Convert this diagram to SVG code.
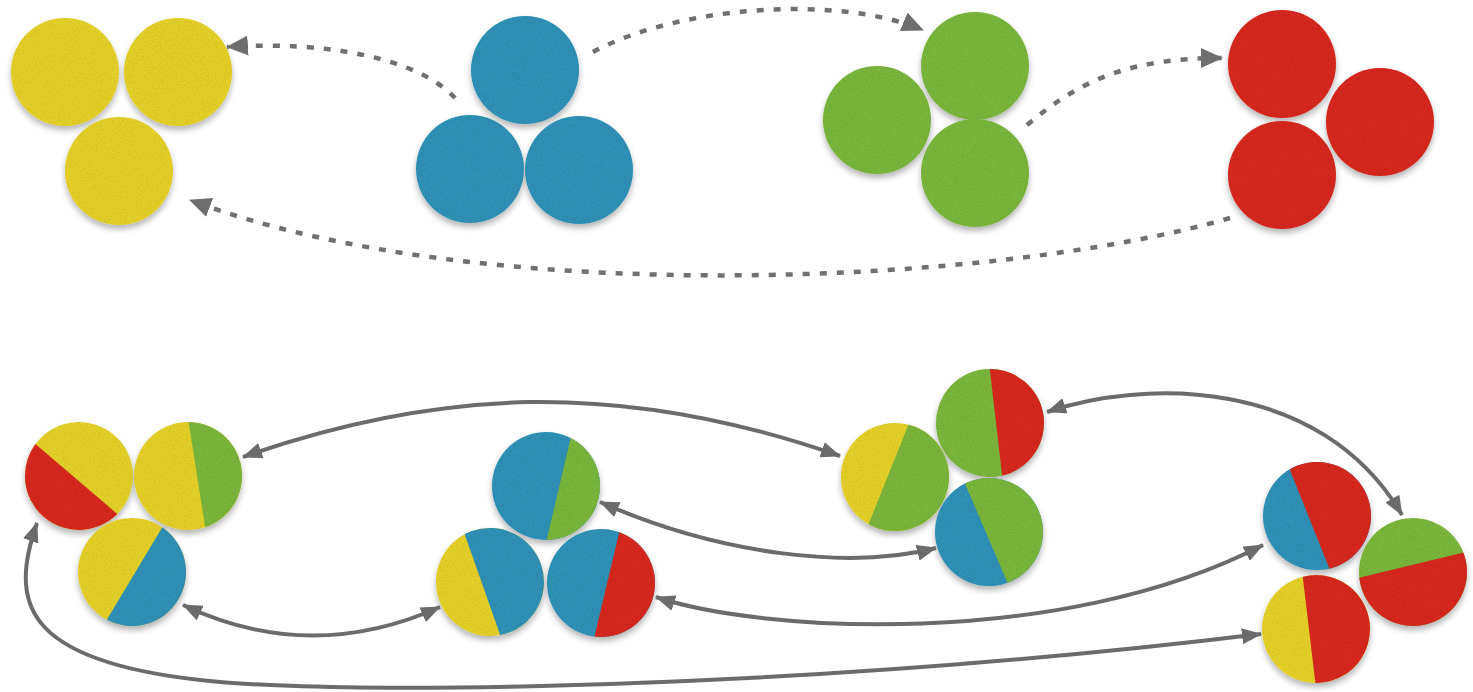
<svg xmlns="http://www.w3.org/2000/svg" width="1473" height="692" viewBox="0 0 1473 692">
<style>
.y{fill:#e6d22c}.b{fill:#3092b8}.g{fill:#7bb73c}.r{fill:#d82b22}
.node{filter:url(#sh)}
.dash{fill:none;stroke:#707070;stroke-width:4.5;stroke-dasharray:7 10;marker-end:url(#ahd)}
.solid{fill:none;stroke:#6b6b6b;stroke-width:4;marker-start:url(#ah);marker-end:url(#ah)}
</style>
<defs>
<filter id="sh" x="-20%" y="-20%" width="140%" height="150%">
<feTurbulence type="fractalNoise" baseFrequency="0.75" numOctaves="2" seed="3" result="noise"/>
<feColorMatrix in="noise" type="matrix" values="0 0 0 0 0  0 0 0 0 0  0 0 0 0 0  0.4 0 0 0 -0.14" result="dark"/>
<feComposite in="dark" in2="SourceGraphic" operator="in" result="tex"/>
<feGaussianBlur in="SourceAlpha" stdDeviation="3"/>
<feOffset dy="4" result="off"/>
<feComponentTransfer in="off" result="shadow"><feFuncA type="linear" slope="0.3"/></feComponentTransfer>
<feMerge><feMergeNode in="shadow"/><feMergeNode in="SourceGraphic"/><feMergeNode in="tex"/></feMerge>
</filter>
<clipPath id="disc"><circle r="54"/></clipPath>
<marker id="ah" viewBox="0 0 20 16" refX="19" refY="8" markerWidth="20" markerHeight="16" markerUnits="userSpaceOnUse" orient="auto-start-reverse"><path d="M0,0 L20,8 L0,16 z" fill="#6b6b6b"/></marker>
<marker id="ahd" viewBox="0 0 22 20" refX="21" refY="10" markerWidth="22" markerHeight="20" markerUnits="userSpaceOnUse" orient="auto"><path d="M0,0 L22,10 L0,20 z" fill="#6e6e6e"/></marker>
</defs>
<rect width="1473" height="692" fill="#ffffff"/>

<g id="top-yellow" class="node">
<circle class="y" cx="65" cy="72" r="54"/>
<circle class="y" cx="178" cy="72" r="54"/>
<circle class="y" cx="119" cy="171" r="54"/>
</g>
<g id="top-blue" class="node">
<circle class="b" cx="525" cy="70" r="54"/>
<circle class="b" cx="470" cy="169" r="54"/>
<circle class="b" cx="579" cy="170" r="54"/>
</g>
<g id="top-green" class="node">
<circle class="g" cx="877" cy="120" r="54"/>
<circle class="g" cx="975" cy="66" r="54"/>
<circle class="g" cx="975" cy="173" r="54"/>
</g>
<g id="top-red" class="node">
<circle class="r" cx="1282" cy="64" r="54"/>
<circle class="r" cx="1380" cy="122" r="54"/>
<circle class="r" cx="1282" cy="175" r="54"/>
</g>

<g id="mix-yellow" class="node">
<g transform="translate(79,476) rotate(130.5)"><circle class="y" r="54"/><rect class="r" x="4" y="-60" width="70" height="120" clip-path="url(#disc)"/></g>
<g transform="translate(188,476) rotate(-9)"><circle class="y" r="54"/><rect class="g" x="9" y="-60" width="70" height="120" clip-path="url(#disc)"/></g>
<g transform="translate(132,572) rotate(31)"><circle class="y" r="54"/><rect class="b" x="3" y="-60" width="70" height="120" clip-path="url(#disc)"/></g>
</g>
<g id="mix-blue" class="node">
<g transform="translate(546,486) rotate(13.3)"><circle class="b" r="54"/><rect class="g" x="13" y="-60" width="70" height="120" clip-path="url(#disc)"/></g>
<g transform="translate(490,582) rotate(-19.4)"><circle class="y" r="54"/><rect class="b" x="-8" y="-60" width="70" height="120" clip-path="url(#disc)"/></g>
<g transform="translate(601,583) rotate(13.4)"><circle class="b" r="54"/><rect class="r" x="6" y="-60" width="70" height="120" clip-path="url(#disc)"/></g>
</g>
<g id="mix-green" class="node">
<g transform="translate(895,477) rotate(21.8)"><circle class="y" r="54"/><rect class="g" x="-7" y="-60" width="70" height="120" clip-path="url(#disc)"/></g>
<g transform="translate(989,532) rotate(-23.2)"><circle class="b" r="54"/><rect class="g" x="-3" y="-60" width="70" height="120" clip-path="url(#disc)"/></g>
<g transform="translate(990,423) rotate(-6.6)"><circle class="g" r="54"/><rect class="r" x="6" y="-60" width="70" height="120" clip-path="url(#disc)"/></g>
</g>
<g id="mix-red" class="node">
<g transform="translate(1317,516) rotate(-21.8)"><circle class="b" r="54"/><rect class="r" x="-8" y="-60" width="70" height="120" clip-path="url(#disc)"/></g>
<g transform="translate(1413,572) rotate(76.5)"><circle class="g" r="54"/><rect class="r" x="-7" y="-60" width="70" height="120" clip-path="url(#disc)"/></g>
<g transform="translate(1316,629) rotate(-6.8)"><circle class="y" r="54"/><rect class="r" x="-7" y="-60" width="70" height="120" clip-path="url(#disc)"/></g>
</g>

<g id="connectors">
<path class="dash" d="M455,98 C420,60 330,40 227,47"/>
<path class="dash" d="M593,52 C680,5 840,-5 923,30"/>
<path class="dash" d="M1027,125 C1080,80 1130,58 1222,58"/>
<path class="dash" d="M1230,218 C1000,285 480,310 190,200"/>
<path class="solid" d="M243,457 Q390,405 530,402 Q680,400 840,456"/>
<path class="solid" d="M183,605 Q310,665 440,607"/>
<path class="solid" d="M37,523 C10,600 20,660 200,680 C340,696 800,690 1261,634"/>
<path class="solid" d="M600,502 C720,555 850,570 936,548"/>
<path class="solid" d="M656,597 C760,632 1060,650 1263,545"/>
<path class="solid" d="M1047,412 C1140,380 1320,375 1402,515"/>
</g>
</svg>
